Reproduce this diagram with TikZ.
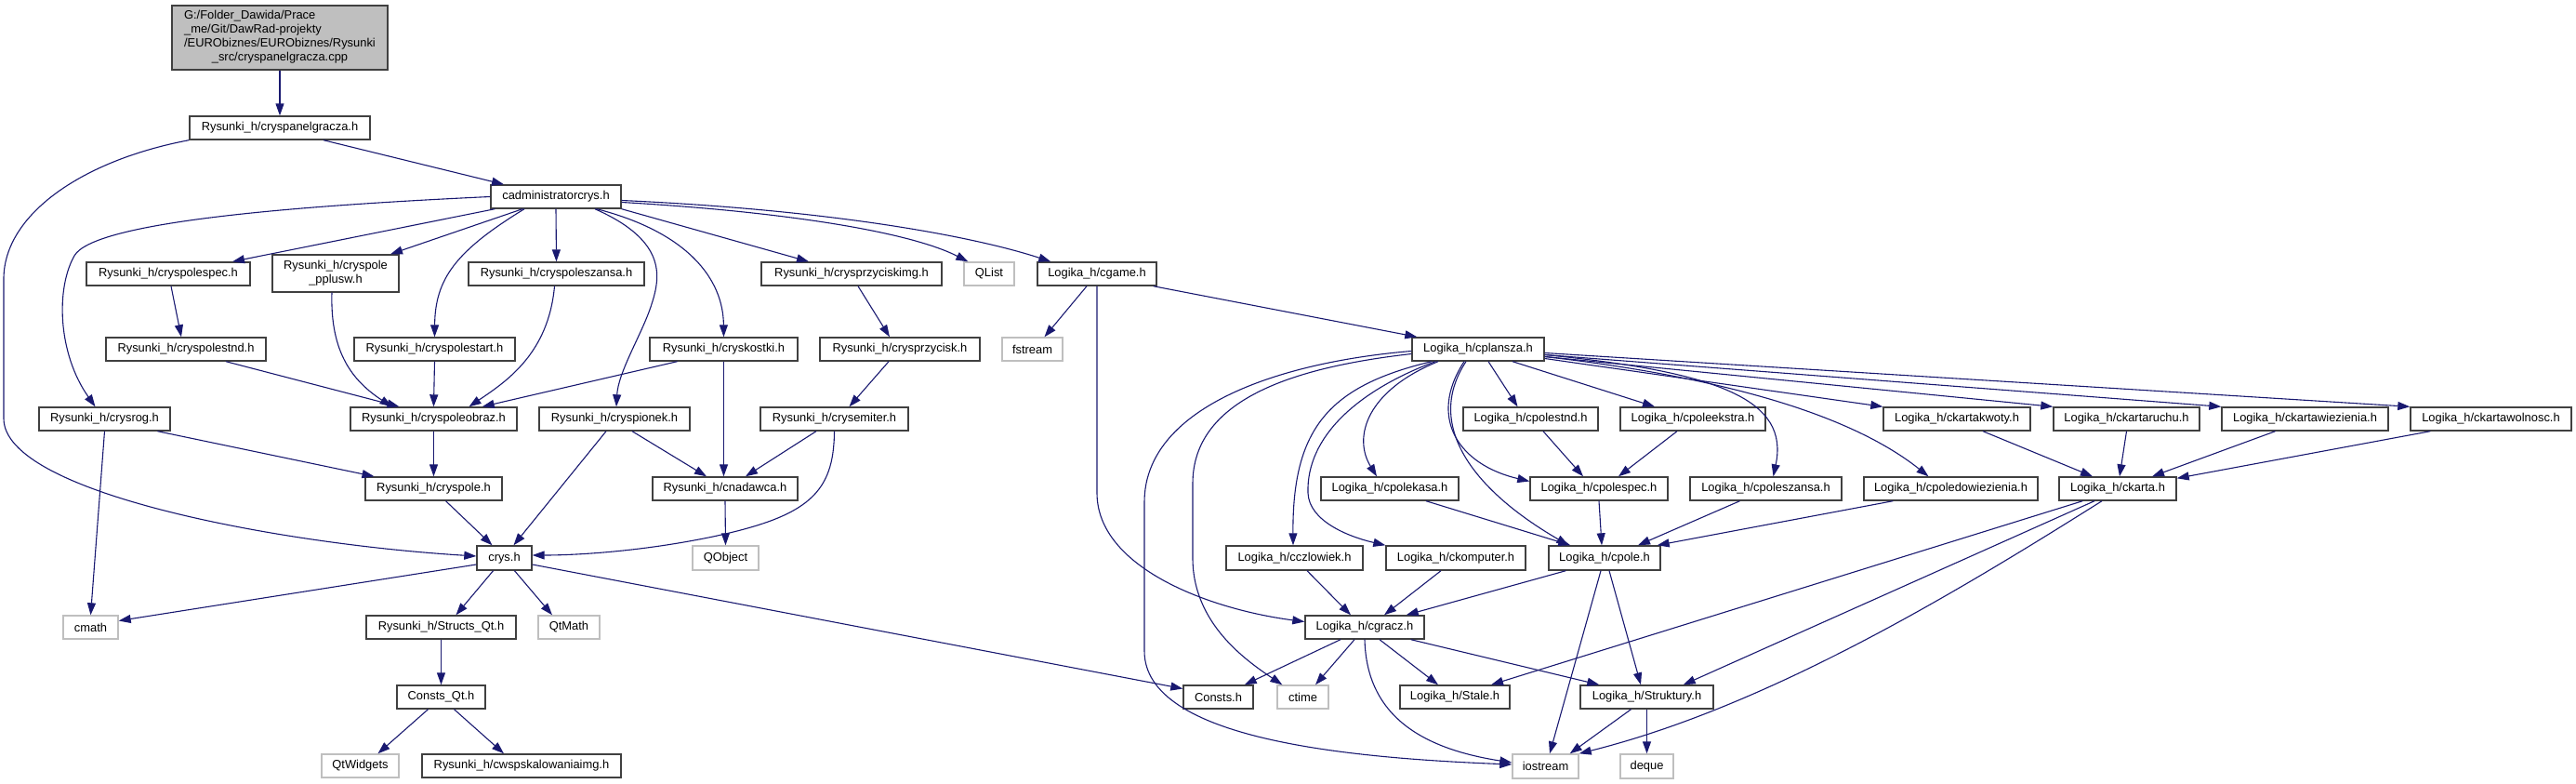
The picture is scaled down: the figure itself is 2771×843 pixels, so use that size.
\documentclass[tikz,border=0pt]{standalone}
\usepackage{fontspec}
\setmainfont{Liberation Sans}
\usetikzlibrary{arrows.meta}
\definecolor{edgec}{HTML}{191970}
\definecolor{bdr}{HTML}{404040}
\definecolor{sysb}{HTML}{BFBFBF}
\definecolor{rootf}{HTML}{BFBFBF}
\begin{document}
\begin{tikzpicture}[x=1pt,y=-1pt,
  hb/.style={draw=bdr, line width=1.4pt, fill=white, inner sep=0pt, minimum height=25pt,
    font=\fontsize{12.9}{15}\selectfont, text=black, align=center},
  sb/.style={hb, draw=sysb},
  dep/.style={draw=edgec, line width=1.1pt, -{Triangle[length=13pt,width=9pt]}},
]
\useasboundingbox (0,0) rectangle (2771,843);
% nodes
\node[hb, fill=rootf, minimum width=232pt, minimum height=69pt] (root) at (301,40.5)
  {\begin{tabular}{@{}l@{}}G:/Folder\_Dawida/Prace\\\_me/Git/DawRad-projekty\\/EURObiznes/EURObiznes/Rysunki\\\multicolumn{1}{@{}c@{}}{\_src/cryspanelgracza.cpp}\end{tabular}};
\node[hb, minimum width=194pt] (panel) at (301,137.5) {Rysunki\_h/cryspanelgracza.h};
\node[hb, minimum width=140pt] (cadmin) at (598,211.5) {cadministratorcrys.h};
\node[hb, minimum width=176pt] (cspec) at (181,294.5) {Rysunki\_h/cryspolespec.h};
\node[hb, minimum width=136pt, minimum height=40pt] (cpplusw) at (361,294) {Rysunki\_h/cryspole\\\_pplusw.h};
\node[hb, minimum width=189pt] (cszansa) at (598.5,294.5) {Rysunki\_h/cryspoleszansa.h};
\node[hb, minimum width=194pt] (cprzimg) at (916,294.5) {Rysunki\_h/crysprzyciskimg.h};
\node[sb, minimum width=54pt] (qlist) at (1064,294.5) {QList};
\node[hb, minimum width=128pt] (cgame) at (1180,294.5) {Logika\_h/cgame.h};
\node[hb, minimum width=172pt] (cstnd) at (200,375.5) {Rysunki\_h/cryspolestnd.h};
\node[hb, minimum width=173pt] (cstart) at (467.5,375.5) {Rysunki\_h/cryspolestart.h};
\node[hb, minimum width=159pt] (ckostki) at (778.5,375.5) {Rysunki\_h/cryskostki.h};
\node[hb, minimum width=172pt] (cprz) at (968,375.5) {Rysunki\_h/crysprzycisk.h};
\node[sb, minimum width=65pt] (fstream) at (1110.5,375.5) {fstream};
\node[hb, minimum width=142pt] (cplansza) at (1590,375.5) {Logika\_h/cplansza.h};
\node[hb, minimum width=141pt] (crysrog) at (112.5,450.5) {Rysunki\_h/crysrog.h};
\node[hb, minimum width=179pt] (cobraz) at (466.5,450.5) {Rysunki\_h/cryspoleobraz.h};
\node[hb, minimum width=162pt] (cpionek) at (661,450.5) {Rysunki\_h/cryspionek.h};
\node[hb, minimum width=159pt] (cemiter) at (897.5,450.5) {Rysunki\_h/crysemiter.h};
\node[hb, minimum width=145pt] (lpolestnd) at (1646.5,450.5) {Logika\_h/cpolestnd.h};
\node[hb, minimum width=156pt] (lpoleekstra) at (1821,450.5) {Logika\_h/cpoleekstra.h};
\node[hb, minimum width=158pt] (kwoty) at (2105,450.5) {Logika\_h/ckartakwoty.h};
\node[hb, minimum width=157pt] (ruchu) at (2287.5,450.5) {Logika\_h/ckartaruchu.h};
\node[hb, minimum width=179pt] (wiez) at (2479.5,450.5) {Logika\_h/ckartawiezienia.h};
\node[hb, minimum width=173pt] (wolnosc) at (2679.5,450.5) {Logika\_h/ckartawolnosc.h};
\node[hb, minimum width=147pt] (rpole) at (466.5,525.5) {Rysunki\_h/cryspole.h};
\node[hb, minimum width=156pt] (cnadawca) at (780,525.5) {Rysunki\_h/cnadawca.h};
\node[hb, minimum width=148pt] (lpolekasa) at (1495,525.5) {Logika\_h/cpolekasa.h};
\node[hb, minimum width=148pt] (lpolespec) at (1720,525.5) {Logika\_h/cpolespec.h};
\node[hb, minimum width=163pt] (lpoleszansa) at (1899.5,525.5) {Logika\_h/cpoleszansa.h};
\node[hb, minimum width=187pt] (lpoledow) at (2098.5,525.5) {Logika\_h/cpoledowiezienia.h};
\node[hb, minimum width=126pt] (ckarta) at (2278,525.5) {Logika\_h/ckarta.h};
\node[hb, minimum width=59pt, minimum height=26pt] (crys) at (542.5,600) {crys.h};
\node[sb, minimum width=71pt, minimum height=26pt] (qobject) at (780.5,600) {QObject};
\node[hb, minimum width=147pt, minimum height=26pt] (cczl) at (1392.5,600) {Logika\_h/cczlowiek.h};
\node[hb, minimum width=150pt, minimum height=26pt] (ckomp) at (1566,600) {Logika\_h/ckomputer.h};
\node[hb, minimum width=120pt, minimum height=26pt] (lpole) at (1726,600) {Logika\_h/cpole.h};
\node[sb, minimum width=59pt] (cmath) at (97.5,674.5) {cmath};
\node[hb, minimum width=161pt] (structs) at (474.5,674.5) {Rysunki\_h/Structs\_Qt.h};
\node[sb, minimum width=66pt] (qtmath) at (612,674.5) {QtMath};
\node[hb, minimum width=128pt] (cgracz) at (1468,674.5) {Logika\_h/cgracz.h};
\node[hb, minimum width=95pt] (constsqt) at (474.5,749.5) {Consts\_Qt.h};
\node[hb, minimum width=75pt] (consts) at (1310.5,749.5) {Consts.h};
\node[sb, minimum width=55pt] (ctime) at (1401.5,749.5) {ctime};
\node[hb, minimum width=118pt] (stale) at (1565,749.5) {Logika\_h/Stale.h};
\node[hb, minimum width=143pt] (struktury) at (1771.5,749.5) {Logika\_h/Struktury.h};
\node[sb, minimum width=83pt] (qtwidgets) at (387.5,823.5) {QtWidgets};
\node[hb, minimum width=214pt] (cwsp) at (561,823.5) {Rysunki\_h/cwspskalowaniaimg.h};
\node[sb, minimum width=71pt, minimum height=26pt] (iostream) at (1662.5,824) {iostream};
\node[sb, minimum width=57pt, minimum height=26pt] (deque) at (1771.5,824) {deque};
% edges
\draw[dep] (root.south) -- (panel.north);
\draw[dep] ([xshift=47pt]panel.south) -- ([xshift=-56pt]cadmin.north);
\draw[dep] (panel.south west) .. controls (90,172) and (4,230) .. (4,300) -- (4,450) .. controls (4,530) and (300,585) .. ([yshift=2pt]crys.west);
\draw[dep] ([xshift=5pt]cadmin.south west) -- ([xshift=69pt]cspec.north);
\draw[dep] ([xshift=-36pt]cadmin.south) -- ([xshift=59pt]cpplusw.north);
\draw[dep] (cadmin.south) -- (cszansa.north);
\draw[dep] (cadmin.west) .. controls (300,222) and (100,240) .. (80,275) .. controls (60,310) and (62,380) .. ([xshift=-10pt]crysrog.north);
\draw[dep] ([xshift=-34pt]cadmin.south) .. controls (490,270) and (468,300) .. (cstart.north);
\draw[dep] ([xshift=42pt]cadmin.south) .. controls (720,260) and (710,300) .. (700,330) .. controls (690,360) and (665,400) .. ([xshift=2pt]cpionek.north);
\draw[dep] ([xshift=44pt]cadmin.south) .. controls (740,250) and (778,300) .. (ckostki.north);
\draw[dep] (cadmin.south east) -- ([xshift=-46pt]cprzimg.north);
\draw[dep] ([yshift=-6pt]cadmin.east) .. controls (850,228) and (980,250) .. ([xshift=5pt]qlist.north west);
\draw[dep] ([yshift=-4pt]cadmin.east) .. controls (900,226) and (1050,255) .. ([xshift=15pt]cgame.north west);
\draw[dep] ([xshift=3pt]cspec.south) -- ([xshift=-5pt]cstnd.north);
\draw[dep] ([xshift=43pt]cstnd.south) -- ([xshift=-37pt]cobraz.north);
\draw[dep] ([xshift=-4pt]cpplusw.south) .. controls (355,380) and (380,410) .. ([xshift=-45pt]cobraz.north);
\draw[dep] (cstart.south) -- (cobraz.north);
\draw[dep] ([xshift=-2pt]cszansa.south) .. controls (590,380) and (545,410) .. ([xshift=38pt]cobraz.north);
\draw[dep] ([xshift=-50pt]ckostki.south) -- ([xshift=-38pt]cobraz.north east);
\draw[dep] (ckostki.south) -- (ckostki.south |- cnadawca.north);
\draw[dep] ([xshift=7pt]cprzimg.south) -- ([xshift=-11pt]cprz.north);
\draw[dep] ([xshift=-12pt]cprz.south) -- ([xshift=16pt]cemiter.north);
\draw[dep] ([xshift=-19.5pt]cemiter.south) -- ([xshift=22pt]cnadawca.north);
\draw[dep] (cemiter.south) .. controls (897,530) and (870,555) .. (767,577) .. controls (690,593) and (620,597) .. ([yshift=3pt]crys.east);
\draw[dep] ([xshift=-9pt]cpionek.south) -- ([xshift=10pt]crys.north);
\draw[dep] ([xshift=19pt]cpionek.south) -- ([xshift=-20pt]cnadawca.north);
\draw[dep] ([xshift=57pt]crysrog.south) -- ([xshift=-64pt]rpole.north);
\draw[dep] (crysrog.south) -- (cmath.north);
\draw[dep] (cobraz.south) -- (rpole.north);
\draw[dep] ([xshift=13pt]rpole.south) -- ([xshift=-13pt]crys.north);
\draw[dep] (cnadawca.south) -- (qobject.north);
\draw[dep] ([yshift=-7pt]crys.west) -- ([yshift=7pt]cmath.east);
\draw[dep] ([xshift=-12pt]crys.south) -- ([xshift=16pt]structs.north);
\draw[dep] ([xshift=11pt]crys.south) -- ([xshift=-18pt]qtmath.north);
\draw[dep] ([yshift=-7pt]crys.east) -- ([yshift=9pt]consts.west);
\draw[dep] (structs.south) -- (constsqt.north);
\draw[dep] ([xshift=-14pt]constsqt.south) -- ([xshift=19pt]qtwidgets.north);
\draw[dep] ([xshift=14pt]constsqt.south) -- ([xshift=-19pt]cwsp.north);
\draw[dep] ([xshift=-11pt]cgame.south) -- ([xshift=13pt]fstream.north);
\draw[dep] ([xshift=-4pt]cgame.south east) -- ([xshift=6pt]cplansza.north west);
\draw[dep] (cgame.south) -- (1180,530) .. controls (1180,610) and (1300,655) .. ([yshift=6pt]cgracz.west);
\draw[dep] ([xshift=11pt]cplansza.south) -- ([xshift=-14pt]lpolestnd.north);
\draw[dep] ([xshift=37pt]cplansza.south) -- ([xshift=-41pt]lpoleekstra.north);
\draw[dep] ([yshift=-10pt]cplansza.east) -- (kwoty.north west);
\draw[dep] ([yshift=-8pt]cplansza.east) -- (ruchu.north west);
\draw[dep] ([yshift=-6pt]cplansza.east) -- (wiez.north west);
\draw[dep] ([yshift=-4pt]cplansza.east) -- (wolnosc.north west);
\draw[dep] ([xshift=-15pt]cplansza.south) .. controls (1535,450) and (1570,500) .. ([yshift=8pt]lpolespec.west);
\draw[dep] ([xshift=-13pt]cplansza.south) .. controls (1530,460) and (1590,530) .. ([xshift=22pt]lpole.north west);
\draw[dep] ([yshift=-6pt]cplansza.east) .. controls (1850,400) and (1925,430) .. ([xshift=8pt]lpoleszansa.north);
\draw[dep] ([yshift=-8pt]cplansza.east) .. controls (1850,405) and (1990,445) .. ([xshift=-24pt]lpoledow.north);
\draw[dep] ([xshift=-43pt]cplansza.south) .. controls (1470,420) and (1455,470) .. ([xshift=-14pt]lpolekasa.north);
\draw[dep] ([xshift=-50pt]cplansza.south) .. controls (1430,415) and (1390,460) .. ([xshift=-1.5pt]cczl.north);
\draw[dep] ([xshift=-46pt]cplansza.south) .. controls (1460,420) and (1405,470) .. (1407,530) .. controls (1408,560) and (1450,577) .. (ckomp.north west);
\draw[dep] ([yshift=-5pt]cplansza.west) .. controls (1390,395) and (1283,430) .. (1283,520) -- (1283,600) .. controls (1283,670) and (1340,710) .. ([xshift=6pt]ctime.north west);
\draw[dep] ([yshift=-2pt]cplansza.west) .. controls (1370,390) and (1231,440) .. (1231,540) -- (1231,700) .. controls (1231,795) and (1450,815) .. ([yshift=2pt]iostream.west);
\draw[dep] ([xshift=13.5pt]lpolestnd.south) -- ([xshift=-17pt]lpolespec.north);
\draw[dep] ([xshift=-17pt]lpoleekstra.south) -- ([xshift=21pt]lpolespec.north);
\draw[dep] (lpolespec.south) -- ([xshift=-3pt]lpole.north);
\draw[dep] ([xshift=39pt]lpolekasa.south) -- ([xshift=24pt]lpole.north west);
\draw[dep] ([xshift=-28pt]lpoleszansa.south) -- ([xshift=36pt]lpole.north);
\draw[dep] ([xshift=32pt]lpoledow.south west) -- ([xshift=-4pt]lpole.north east);
\draw[dep] ([xshift=28pt]kwoty.south) -- ([xshift=-27pt]ckarta.north);
\draw[dep] (ruchu.south) -- ([xshift=2pt]ckarta.north);
\draw[dep] ([xshift=-32pt]wiez.south) -- ([xshift=37pt]ckarta.north);
\draw[dep] ([xshift=22pt]wolnosc.south west) -- ([yshift=-2pt]ckarta.north east);
\draw[dep] ([xshift=26pt]ckarta.south west) -- ([xshift=39pt]stale.north);
\draw[dep] ([xshift=-25pt]ckarta.south) -- ([xshift=-33pt]struktury.north east);
\draw[dep] ([xshift=-17pt]ckarta.south) .. controls (2100,640) and (1900,760) .. (iostream.north east);
\draw[dep] ([xshift=13.5pt]cczl.south) -- ([xshift=-15pt]cgracz.north);
\draw[dep] ([xshift=-16pt]ckomp.south) -- ([xshift=21pt]cgracz.north);
\draw[dep] ([xshift=19pt]lpole.south west) -- ([xshift=-20pt]cgracz.north east);
\draw[dep] ([xshift=-4pt]lpole.south) -- ([xshift=4.5pt]iostream.north);
\draw[dep] ([xshift=5pt]lpole.south) -- ([xshift=-6.5pt]struktury.north);
\draw[dep] ([xshift=-26pt]cgracz.south) -- ([xshift=-10pt]consts.north east);
\draw[dep] ([xshift=-11pt]cgracz.south) -- ([xshift=13.5pt]ctime.north);
\draw[dep] ([xshift=16pt]cgracz.south) -- ([xshift=-18pt]stale.north);
\draw[dep] ([xshift=-15pt]cgracz.south east) -- ([xshift=21pt]struktury.north west);
\draw[dep] (cgracz.south) .. controls (1470,770) and (1530,805) .. ([yshift=4pt]iostream.west);
\draw[dep] ([xshift=-17pt]struktury.south) -- ([xshift=-10pt]iostream.north east);
\draw[dep] (struktury.south) -- (deque.north);
\end{tikzpicture}
\end{document}
